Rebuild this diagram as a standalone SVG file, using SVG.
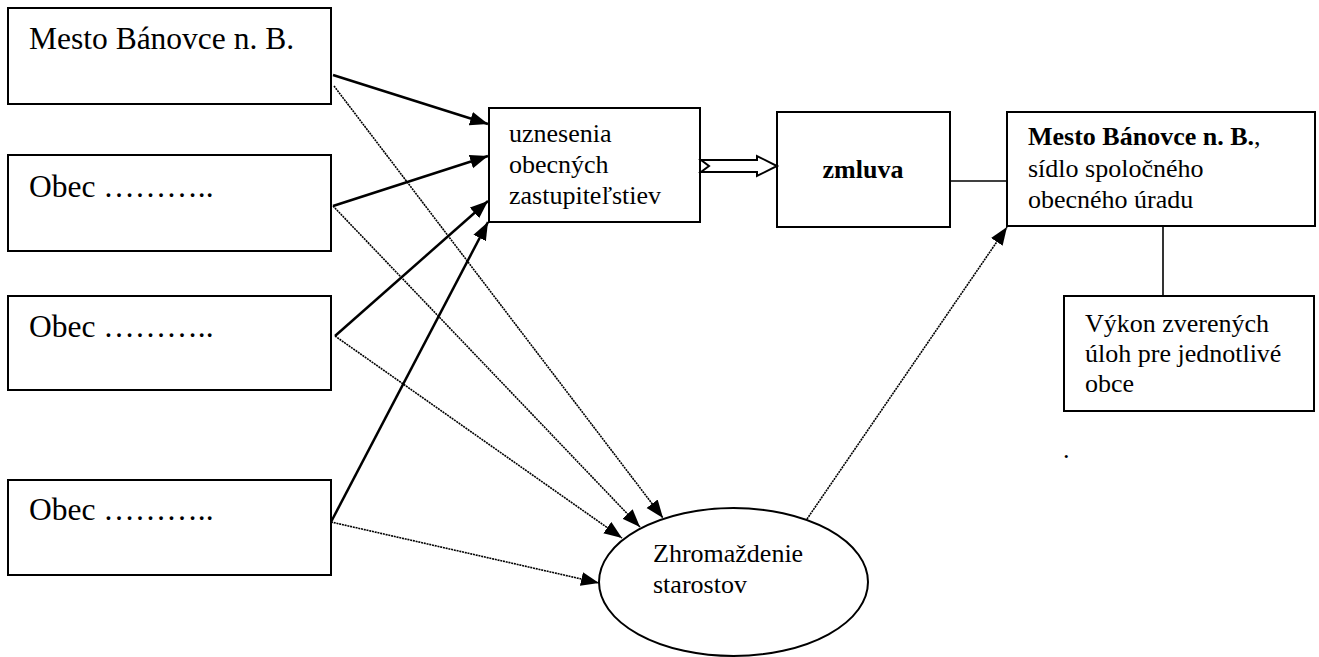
<svg xmlns="http://www.w3.org/2000/svg" width="1319" height="657" viewBox="0 0 1319 657">
<style>
  .box { fill: #fff; stroke: #000; stroke-width: 2; }
  .t { font-family: "Liberation Serif", "Times New Roman", "Liberation Sans", sans-serif; fill: #000; }
  .big { font-size: 31.5px; }
  .mid { font-size: 26px; }
  .b { font-weight: bold; }
  .solid { stroke: #000; stroke-width: 2.5; fill: none; }
  .dot { stroke: #000; stroke-width: 1.6; fill: none; stroke-dasharray: 2 0.8; }
  .plain { stroke: #000; stroke-width: 1.6; fill: none; }
</style>
<defs>
  <marker id="ah" markerUnits="userSpaceOnUse" markerWidth="20" markerHeight="16" viewBox="0 0 20 16" refX="18" refY="8" orient="auto">
    <path d="M0,1 L18,8 L0,15 Z" fill="#000"/>
  </marker>
</defs>
<rect width="1319" height="657" fill="#fff"/>

<g id="mesto1">
  <rect class="box" x="8" y="8" width="323" height="96"/>
  <text class="t big" x="29" y="49">Mesto Bánovce n. B.</text>
</g>
<g id="obec1">
  <rect class="box" x="8" y="155" width="323" height="96"/>
  <text class="t big" x="29" y="197">Obec ………..</text>
</g>
<g id="obec2">
  <rect class="box" x="8" y="296" width="323" height="94"/>
  <text class="t big" x="29" y="337">Obec ………..</text>
</g>
<g id="obec3">
  <rect class="box" x="8" y="480" width="323" height="95"/>
  <text class="t big" x="29" y="520">Obec ………..</text>
</g>
<g id="uznesenia">
  <rect class="box" x="489" y="108" width="211" height="114"/>
  <text class="t mid" x="509" y="142">uznesenia</text>
  <text class="t mid" x="509" y="173">obecných</text>
  <text class="t mid" x="509" y="204">zastupiteľstiev</text>
</g>
<g id="zmluva">
  <rect class="box" x="777" y="112" width="173" height="115"/>
  <text class="t mid b" x="863" y="178" text-anchor="middle">zmluva</text>
</g>
<g id="mesto2">
  <rect class="box" x="1007" y="112" width="308" height="114"/>
  <text class="t mid" x="1028" y="145"><tspan class="b">Mesto Bánovce n. B.</tspan>,</text>
  <text class="t mid" x="1028" y="177">sídlo spoločného</text>
  <text class="t mid" x="1028" y="208">obecného úradu</text>
</g>
<g id="vykon">
  <rect class="box" x="1064" y="296" width="250" height="115"/>
  <text class="t mid" x="1085" y="332">Výkon zverených</text>
  <text class="t mid" x="1085" y="362">úloh pre jednotlivé</text>
  <text class="t mid" x="1085" y="392">obce</text>
</g>
<g id="zhromazdenie">
  <ellipse cx="733.5" cy="582" rx="134.5" ry="74" fill="#fff" stroke="#000" stroke-width="2"/>
  <text class="t mid" x="653" y="562">Zhromaždenie</text>
  <text class="t mid" x="653" y="593">starostov</text>
</g>
<text class="t mid" x="1063" y="458">.</text>

<g id="connectors">
  <line class="solid" x1="333" y1="75" x2="488" y2="124" marker-end="url(#ah)"/>
  <line class="solid" x1="333" y1="206" x2="488" y2="156" marker-end="url(#ah)"/>
  <line class="solid" x1="335" y1="336" x2="488" y2="201" marker-end="url(#ah)"/>
  <line class="solid" x1="331" y1="522" x2="488" y2="222" marker-end="url(#ah)"/>

  <line class="dot" x1="334" y1="86" x2="663" y2="518" marker-end="url(#ah)"/>
  <line class="dot" x1="333" y1="206" x2="640" y2="527" marker-end="url(#ah)"/>
  <line class="dot" x1="335" y1="336" x2="622" y2="538" marker-end="url(#ah)"/>
  <line class="dot" x1="331" y1="522" x2="599" y2="583" marker-end="url(#ah)"/>
  <line class="dot" x1="807" y1="519" x2="1007" y2="227" marker-end="url(#ah)"/>

  <polygon points="701,160 757,160 757,156 777,166 757,176 757,172 701,172 709,166" fill="#fff" stroke="#000" stroke-width="2"/>
  <line class="plain" x1="950" y1="181" x2="1007" y2="181"/>
  <line class="plain" x1="1163" y1="226" x2="1163" y2="296"/>
</g>
</svg>
